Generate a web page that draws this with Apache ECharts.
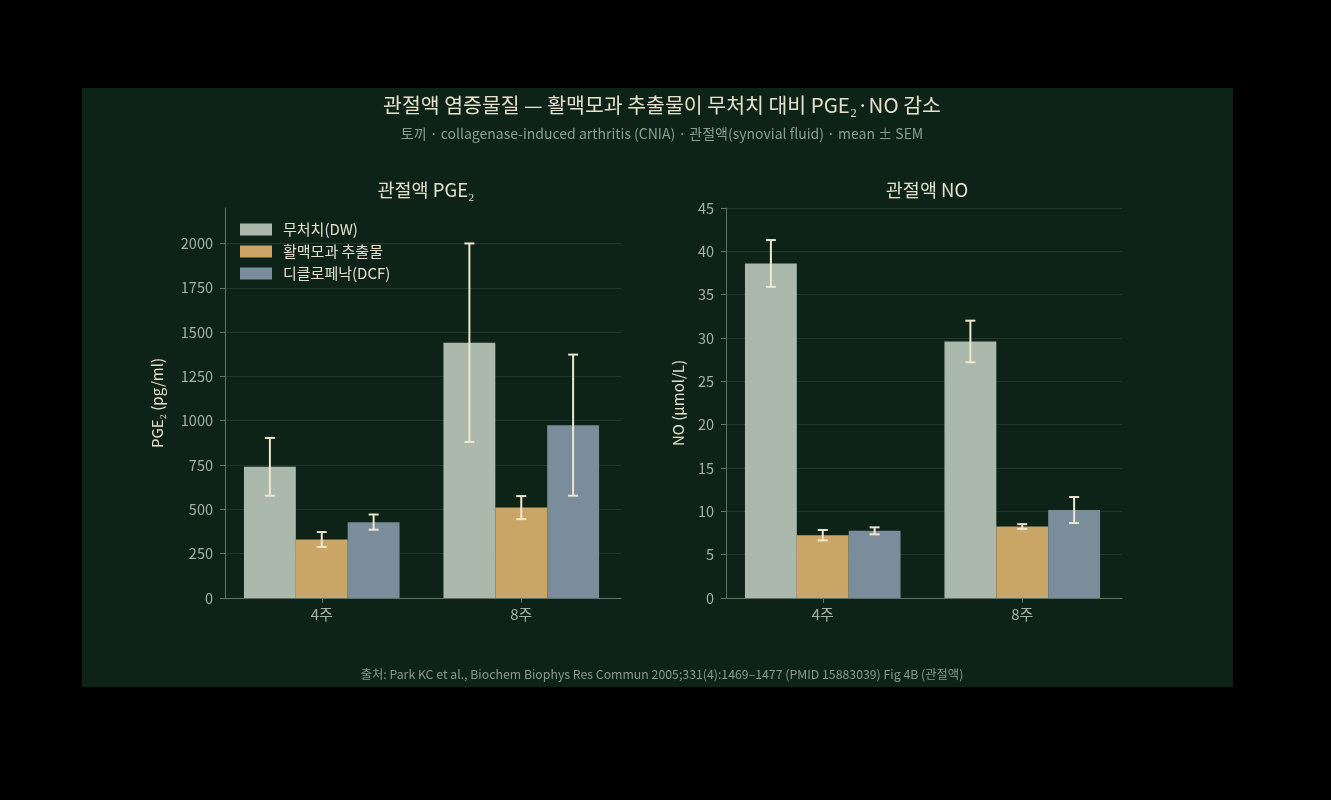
<!DOCTYPE html>
<html>
<head>
<meta charset="utf-8">
<script src="https://cdn.jsdelivr.net/npm/echarts@6/dist/echarts.min.js"></script>
<style>
  html, body { margin: 0; padding: 0; background: #000; }
  #main { position: absolute; left: 82px; top: 88px; width: 1151px; height: 599px; }
</style>
</head>
<body>
<div id="main"></div>
<script>
const weeks = ['4주', '8주'];
const groups = ['무처치(DW)', '활맥모과 추출물', '디클로페낙(DCF)'];
const colors = ['#abb9ac', '#c9a666', '#7a8d9a'];

// PGE2 (pg/ml), mean and SEM
const pgeDW = [740, 1440];
const pgeExt = [330, 510];
const pgeDCF = [428, 975];
const pgeDWSem = [163, 560];
const pgeExtSem = [42, 65];
const pgeDCFSem = [43, 398];
const pgeTicks = [0, 250, 500, 750, 1000, 1250, 1500, 1750, 2000];

// NO (umol/L), mean and SEM
const noDW = [38.6, 29.6];
const noExt = [7.25, 8.25];
const noDCF = [7.75, 10.15];
const noDWSem = [2.7, 2.4];
const noExtSem = [0.6, 0.27];
const noDCFSem = [0.4, 1.5];

const font = 'Noto Sans CJK KR';
const cream = '#e6e0cc';
const tickCol = '#a7b1a5';
const axisCol = '#62736a';
const gridCol = '#22372b';
const errCol = '#efe6cf';
const groupFrac = 0.78;

function errRender(k) {
    return function (params, api) {
        var ci = api.value(0), m = api.value(1), s = api.value(2);
        var bw = api.size([1, 0])[0] * groupFrac / 3;
        var off = (k - 1) * bw;
        var top = api.coord([ci, m + s]);
        var bot = api.coord([ci, m - s]);
        var x = top[0] + off;
        var cap = 5;
        var st = { stroke: errCol, lineWidth: 2 };
        return {
            type: 'group',
            children: [
                { type: 'line', shape: { x1: x, y1: top[1], x2: x, y2: bot[1] }, style: st },
                { type: 'line', shape: { x1: x - cap, y1: top[1], x2: x + cap, y2: top[1] }, style: st },
                { type: 'line', shape: { x1: x - cap, y1: bot[1], x2: x + cap, y2: bot[1] }, style: st }
            ]
        };
    };
}

function makeSeries(axisIdx, means, sems) {
    var out = [];
    for (var k = 0; k < 3; k++) {
        out.push({
            name: groups[k],
            type: 'bar',
            xAxisIndex: axisIdx,
            yAxisIndex: axisIdx,
            barGap: '0%',
            barCategoryGap: ((1 - groupFrac) * 100) + '%',
            itemStyle: { color: colors[k] },
            data: means[k],
            z: 2
        });
    }
    for (var k2 = 0; k2 < 3; k2++) {
        var d = [];
        for (var i = 0; i < weeks.length; i++) d.push([i, means[k2][i], sems[k2][i]]);
        out.push({
            type: 'custom',
            xAxisIndex: axisIdx,
            yAxisIndex: axisIdx,
            renderItem: errRender(k2),
            data: d,
            z: 5,
            silent: true
        });
    }
    return out;
}

var myChart = echarts.init(document.getElementById('main'));

var catAxis = function (idx) {
    return {
        type: 'category',
        gridIndex: idx,
        data: weeks,
        axisLine: { show: true, lineStyle: { color: axisCol, width: 1 } },
        axisTick: { show: true, alignWithLabel: true, length: 5, lineStyle: { color: axisCol } },
        axisLabel: { color: tickCol, fontSize: 15, fontFamily: font, margin: 9 }
    };
};

var plain = function (v) { return String(v); };

var option = {
    backgroundColor: '#0d2318',
    animation: false,
    textStyle: { fontFamily: font },
    title: [
        {
            text: '관절액 염증물질 — 활맥모과 추출물이 무처치 대비 PGE₂·NO 감소',
            left: 575, top: 2, textAlign: 'center',
            textStyle: { color: cream, fontSize: 20.5, fontWeight: 'normal', fontFamily: font }
        },
        {
            text: '토끼 · collagenase-induced arthritis (CNIA) · 관절액(synovial fluid) · mean ± SEM',
            left: 575, top: 34, textAlign: 'center',
            textStyle: { color: '#8d9d92', fontSize: 14, fontWeight: 'normal', fontFamily: font }
        },
        {
            text: '관절액 PGE₂',
            left: 339, top: 88, textAlign: 'center',
            textStyle: { color: cream, fontSize: 18.5, fontWeight: 'normal', fontFamily: font }
        },
        {
            text: '관절액 NO',
            left: 840, top: 88, textAlign: 'center',
            textStyle: { color: cream, fontSize: 18.5, fontWeight: 'normal', fontFamily: font }
        },
        {
            text: '출처: Park KC et al., Biochem Biophys Res Commun 2005;331(4):1469–1477 (PMID 15883039) Fig 4B (관절액)',
            left: 575, top: 575, textAlign: 'center',
            textStyle: { color: '#8a998e', fontSize: 12.3, fontWeight: 'normal', fontFamily: font }
        }
    ],
    legend: {
        data: groups,
        orient: 'vertical',
        left: 153,
        top: 129,
        itemWidth: 32,
        itemHeight: 12,
        itemGap: 7,
        icon: 'rect',
        textStyle: { color: cream, fontSize: 15, fontFamily: font, padding: [0, 0, 0, 6] }
    },
    grid: [
        { left: 140, top: 120, width: 399, height: 390 },
        { left: 641, top: 120, width: 399, height: 390 }
    ],
    xAxis: [catAxis(0), catAxis(1)],
    yAxis: [
        {
            type: 'value',
            gridIndex: 0,
            offset: -3,
            min: 0,
            max: 2200,
            interval: 250,
            name: 'PGE₂ (pg/ml)',
            nameLocation: 'middle',
            nameGap: 60,
            nameTextStyle: { color: cream, fontSize: 15, fontFamily: font },
            axisLine: { show: true, lineStyle: { color: axisCol } },
            axisTick: { show: true, length: 5, lineStyle: { color: axisCol }, customValues: pgeTicks },
            axisLabel: { color: tickCol, fontSize: 14.5, fontFamily: font, margin: 12, formatter: plain, customValues: pgeTicks },
            splitLine: { show: true, lineStyle: { color: gridCol, width: 1 } }
        },
        {
            type: 'value',
            gridIndex: 1,
            offset: -3,
            min: 0,
            max: 45,
            interval: 5,
            name: 'NO (μmol/L)',
            nameLocation: 'middle',
            nameGap: 40,
            nameTextStyle: { color: cream, fontSize: 15, fontFamily: font },
            axisLine: { show: true, lineStyle: { color: axisCol } },
            axisTick: { show: true, length: 5, lineStyle: { color: axisCol } },
            axisLabel: { color: tickCol, fontSize: 14.5, fontFamily: font, margin: 12, formatter: plain },
            splitLine: { show: true, lineStyle: { color: gridCol, width: 1 } }
        }
    ],
    series: makeSeries(0, [pgeDW, pgeExt, pgeDCF], [pgeDWSem, pgeExtSem, pgeDCFSem])
        .concat(makeSeries(1, [noDW, noExt, noDCF], [noDWSem, noExtSem, noDCFSem]))
};

myChart.setOption(option);
</script>
</body>
</html>
